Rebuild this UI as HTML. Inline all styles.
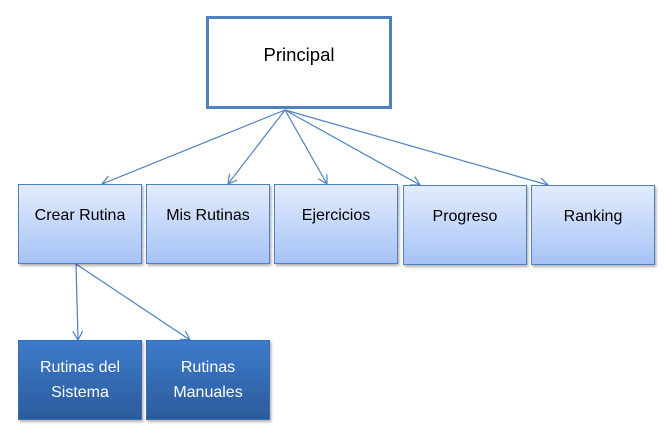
<!DOCTYPE html>
<html><head><style>html,body{margin:0;padding:0;background:#fff;}</style></head>
<body>
<svg width="671" height="439" xmlns="http://www.w3.org/2000/svg" font-family="'Liberation Sans', sans-serif">
<defs>
<linearGradient id="lg" x1="0" y1="0" x2="0" y2="1"><stop offset="0" stop-color="#e3ecfd"/><stop offset="1" stop-color="#a6c3f6"/></linearGradient>
<linearGradient id="dg" x1="0" y1="0" x2="0" y2="1"><stop offset="0" stop-color="#3d7bcb"/><stop offset="1" stop-color="#2b5b9c"/></linearGradient>
<filter id="sh" x="-10%" y="-10%" width="130%" height="130%"><feDropShadow dx="1.5" dy="2" stdDeviation="1.2" flood-color="#000" flood-opacity="0.3"/></filter>
<marker id="ar" markerWidth="12" markerHeight="12" refX="10" refY="5" orient="auto" markerUnits="userSpaceOnUse"><path d="M1,0 L10,5 L1,10" fill="none" stroke="#4f81bd" stroke-width="1.2"/></marker>
</defs>
<rect x="207.5" y="17.5" width="183" height="90" fill="#fff" stroke="#4f81bd" stroke-width="3"/>
<text x="299" y="61" font-size="18.5" text-anchor="middle" fill="#000">Principal</text>
<g stroke="#4f81bd" stroke-width="1.2" fill="none" marker-end="url(#ar)">
<line x1="285" y1="110" x2="102" y2="184"/>
<line x1="285" y1="110" x2="228" y2="184"/>
<line x1="285" y1="110" x2="327" y2="184"/>
<line x1="285" y1="110" x2="420" y2="185"/>
<line x1="285" y1="110" x2="548" y2="185"/>
<line x1="76" y1="264" x2="78" y2="340"/>
<line x1="76" y1="264" x2="190" y2="340"/>
</g>
<g filter="url(#sh)" stroke="#4f81bd" stroke-width="1">
<rect x="18.5" y="184.5" width="123" height="79" fill="url(#lg)"/>
<rect x="146.5" y="184.5" width="123" height="79" fill="url(#lg)"/>
<rect x="274.5" y="184.5" width="123" height="79" fill="url(#lg)"/>
<rect x="403.5" y="185.5" width="123" height="79" fill="url(#lg)"/>
<rect x="531.5" y="185.5" width="123" height="79" fill="url(#lg)"/>
<rect x="18.5" y="340.5" width="123" height="79" fill="url(#dg)" stroke="#3a6db0"/>
<rect x="146.5" y="340.5" width="123" height="79" fill="url(#dg)" stroke="#3a6db0"/>
</g>
<g font-size="16" text-anchor="middle" fill="#000">
<text x="80" y="220">Crear Rutina</text>
<text x="208" y="220">Mis Rutinas</text>
<text x="336" y="220">Ejercicios</text>
<text x="465" y="221">Progreso</text>
<text x="593" y="221">Ranking</text>
</g>
<g font-size="16" text-anchor="middle" fill="#fff">
<text x="80" y="372">Rutinas del</text>
<text x="80" y="397">Sistema</text>
<text x="208" y="372">Rutinas</text>
<text x="208" y="397">Manuales</text>
</g>
</svg>
</body></html>
